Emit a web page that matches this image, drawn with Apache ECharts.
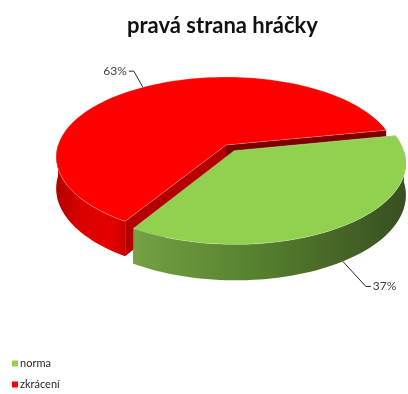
<!DOCTYPE html>
<html>
<head>
<meta charset="utf-8">
<script src="https://cdn.jsdelivr.net/npm/echarts@6/dist/echarts.min.js"></script>
<style>
  html, body { margin: 0; padding: 0; background: #fff; }
  #chart { width: 408px; height: 394px; }
</style>
</head>
<body>
<div id="chart"></div>
<script>
// Share of each category (percent)
const categories = ['norma', 'zkrácení'];
const values = [37, 63];
const valueLabels = ['37%', '63%'];

// Slice styling: top face, side gradient stops, radial cut faces
const topColors = ['#92D050', '#FF0000'];
const sideStops = [
  [[0, '#73A143'], [0.45, '#56812F'], [1, '#384F20']],
  [[0, '#B00000'], [0.35, '#DC0000'], [0.8, '#E40000'], [1, '#C80000']]
];
const cutColors = [['#6E9A3C', '#4B6E2A'], ['#B40000', '#7A0000']];
const explodeBy = [0.085, 0];
// Leader line: offset from the rim anchor to the elbow, then horizontal run
const leaderElbow = [[23, 25], [-9, -16]];
const leaderRun = [5, -5];

// Tilted pie geometry
const CX = 226, CY = 145, RX = 168, RY = 80, DEPTH = 31, PERSP = 0.15;
const START_ANGLE = -11;

const total = values.reduce((a, b) => a + b, 0);
const rad = d => d * Math.PI / 180;

function project(u, v, h) {
  const s = 1 + PERSP * v;
  return [CX + RX * u * s, CY + RY * v * s + h * DEPTH * s];
}

function sliceAngles(i) {
  let a0 = START_ANGLE;
  for (let k = 0; k < i; k++) a0 += values[k] / total * 360;
  return [a0, a0 + values[i] / total * 360];
}

function arcPoints(ox, oy, from, to, h) {
  const pts = [];
  const n = Math.max(2, Math.ceil(Math.abs(to - from) / 2));
  for (let k = 0; k <= n; k++) {
    const t = rad(from + (to - from) * k / n);
    pts.push(project(ox + Math.cos(t), oy + Math.sin(t), h));
  }
  return pts;
}

function renderSlice(params, api) {
  const i = params.seriesIndex;
  const [a0, a1] = sliceAngles(i);
  const mid = rad((a0 + a1) / 2);
  const ox = explodeBy[i] * Math.cos(mid);
  const oy = explodeBy[i] * Math.sin(mid);
  const children = [];

  // radial cut faces
  [a0, a1].forEach((a, j) => {
    const t = rad(a);
    children.push({
      type: 'polygon',
      shape: { points: [
        project(ox, oy, 0),
        project(ox + Math.cos(t), oy + Math.sin(t), 0),
        project(ox + Math.cos(t), oy + Math.sin(t), 1),
        project(ox, oy, 1)
      ] },
      style: { fill: cutColors[i][j] }
    });
  });

  // outer curved side, only the part facing the viewer (0..180 deg)
  [-360, 0, 360].forEach(shift => {
    const lo = Math.max(a0, 0 + shift);
    const hi = Math.min(a1, 180 + shift);
    if (hi > lo) {
      const top = arcPoints(ox, oy, lo, hi, 0);
      const bottom = arcPoints(ox, oy, lo, hi, 1).reverse();
      children.push({
        type: 'polygon',
        shape: { points: top.concat(bottom) },
        style: {
          fill: new echarts.graphic.LinearGradient(0, 0, 1, 0,
            sideStops[i].map(s => ({ offset: s[0], color: s[1] })))
        }
      });
    }
  });

  // top face
  const topPts = [project(ox, oy, 0)].concat(arcPoints(ox, oy, a0, a1, 0));
  children.push({
    type: 'polygon',
    shape: { points: topPts },
    style: { fill: topColors[i], stroke: 'rgba(255,255,255,0.25)', lineWidth: 1 }
  });

  // value label with leader line
  const frontFacing = Math.sin(mid) > 0;
  const anchor = project(ox + Math.cos(mid), oy + Math.sin(mid), frontFacing ? 1 : 0);
  const elbow = [anchor[0] + leaderElbow[i][0], anchor[1] + leaderElbow[i][1]];
  const end = [elbow[0] + leaderRun[i], elbow[1]];
  children.push({
    type: 'polyline',
    shape: { points: [anchor, elbow, end] },
    style: { stroke: '#262626', lineWidth: 1, fill: null }
  });
  children.push({
    type: 'text',
    style: {
      text: valueLabels[i],
      x: end[0] + (leaderRun[i] > 0 ? 2 : -2),
      y: end[1],
      align: leaderRun[i] > 0 ? 'left' : 'right',
      verticalAlign: 'middle',
      fill: '#404040',
      font: '12px Lato'
    }
  });

  return { type: 'group', children };
}

const chart = echarts.init(document.getElementById('chart'), null, { renderer: 'canvas' });
chart.setOption({
  animation: false,
  title: {
    text: 'pravá strana hráčky',
    left: 122,
    top: 10,
    textStyle: { fontFamily: 'Lato', fontWeight: 'bold', fontSize: 22, color: '#111' }
  },
  legend: {
    orient: 'vertical',
    left: 12,
    top: 358,
    padding: 0,
    icon: 'rect',
    itemWidth: 6,
    itemHeight: 6,
    itemGap: 10,
    data: categories,
    textStyle: { fontFamily: 'Lato', fontSize: 11, color: '#262626', padding: [0, 0, 0, -3] }
  },
  series: categories.map((name, i) => ({
    type: 'custom',
    name: name,
    coordinateSystem: 'none',
    z: i === 0 ? 3 : 2,
    itemStyle: { color: topColors[i] },
    data: [values[i]],
    renderItem: renderSlice
  }))
});
</script>
</body>
</html>
